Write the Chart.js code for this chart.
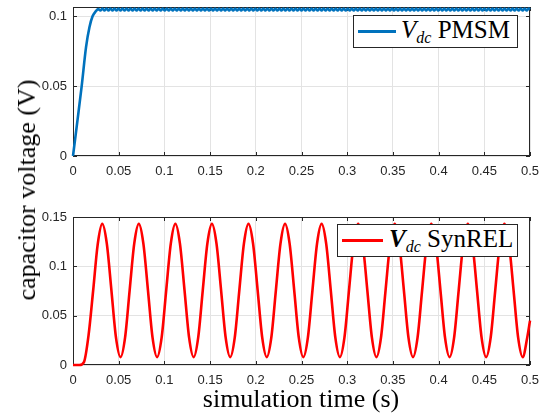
<!DOCTYPE html>
<html>
<head>
<meta charset="utf-8">
<script src="https://cdn.jsdelivr.net/npm/chart.js"></script>
<style>
  body { margin: 0; background: #fff; }
  #wrap { position: relative; width: 543px; height: 413px; overflow: hidden; }
  canvas { position: absolute; left: 0; }
  .legend { position: absolute; background: #fff; border: 1px solid #262626; box-sizing: border-box;
            display: flex; align-items: center; font-family: "Liberation Serif", serif; font-size: 25px; color: #000; }
  .swatch { display: inline-block; height: 3px; }
  .legend sub { font-size: 16px; vertical-align: -5px; }
  .title { position: absolute; font-family: "Liberation Serif", serif; font-size: 26px; color: #000; white-space: nowrap; }
</style>
</head>
<body>
<div id="wrap">
  <canvas id="topChart" width="543" height="190" style="top:0"></canvas>
  <canvas id="botChart" width="543" height="190" style="top:200px"></canvas>
  <div class="legend" style="left:353px;top:15px;width:165px;height:33px;">
    <span class="swatch" style="background:#0072BD;width:38px;margin-left:4px;"></span>
    <span style="margin-left:5px"><i>V</i><sub><i>dc</i></sub>&nbsp;PMSM</span>
  </div>
  <div class="legend" style="left:337px;top:224px;width:181px;height:33px;">
    <span class="swatch" style="background:#FF0000;width:41px;margin-left:4px;"></span>
    <span style="margin-left:6px"><b><i>V</i></b><sub><i>dc</i></sub>&nbsp;SynREL</span>
  </div>
  <div class="title" style="left:27px;top:190px;transform:translate(-50%,-50%) rotate(-90deg);">capacitor voltage (V)</div>
  <div class="title" style="left:301px;top:399px;transform:translate(-50%,-50%);">simulation time (s)</div>
</div>
<script>
// tick labels
var xTicks = [0, 0.05, 0.1, 0.15, 0.2, 0.25, 0.3, 0.35, 0.4, 0.45, 0.5];
var yTopTicks = [0, 0.05, 0.1];
var yBotTicks = [0, 0.05, 0.1, 0.15];

// PMSM capacitor voltage (s, V)
var pmsmTime = [0, 0.0050, 0.0095, 0.0143, 0.0180, 0.0215, 0.0250, 0.0277,
  0.0300,0.0322,0.0344,0.0366,0.0388,0.0410,0.0432,0.0454,0.0476,0.0498,
  0.0520,0.0542,0.0564,0.0586,0.0608,0.0630,0.0652,0.0674,0.0696,0.0718,
  0.0740,0.0762,0.0784,0.0806,0.0828,0.0850,0.0872,0.0894,0.0916,0.0938,
  0.0960,0.0982,0.1004,0.1026,0.1048,0.1070,0.1092,0.1114,0.1136,0.1158,
  0.1180,0.1202,0.1224,0.1246,0.1268,0.1290,0.1312,0.1334,0.1356,0.1378,
  0.1400,0.1422,0.1444,0.1466,0.1488,0.1510,0.1532,0.1554,0.1576,0.1598,
  0.1620,0.1642,0.1664,0.1686,0.1708,0.1730,0.1752,0.1774,0.1796,0.1818,
  0.1840,0.1862,0.1884,0.1906,0.1928,0.1950,0.1972,0.1994,0.2016,0.2038,
  0.2060,0.2082,0.2104,0.2126,0.2148,0.2170,0.2192,0.2214,0.2236,0.2258,
  0.2280,0.2302,0.2324,0.2346,0.2368,0.2390,0.2412,0.2434,0.2456,0.2478,
  0.2500,0.2522,0.2544,0.2566,0.2588,0.2610,0.2632,0.2654,0.2676,0.2698,
  0.2720,0.2742,0.2764,0.2786,0.2808,0.2830,0.2852,0.2874,0.2896,0.2918,
  0.2940,0.2962,0.2984,0.3006,0.3028,0.3050,0.3072,0.3094,0.3116,0.3138,
  0.3160,0.3182,0.3204,0.3226,0.3248,0.3270,0.3292,0.3314,0.3336,0.3358,
  0.3380,0.3402,0.3424,0.3446,0.3468,0.3490,0.3512,0.3534,0.3556,0.3578,
  0.3600,0.3622,0.3644,0.3666,0.3688,0.3710,0.3732,0.3754,0.3776,0.3798,
  0.3820,0.3842,0.3864,0.3886,0.3908,0.3930,0.3952,0.3974,0.3996,0.4018,
  0.4040,0.4062,0.4084,0.4106,0.4128,0.4150,0.4172,0.4194,0.4216,0.4238,
  0.4260,0.4282,0.4304,0.4326,0.4348,0.4370,0.4392,0.4414,0.4436,0.4458,
  0.4480,0.4502,0.4524,0.4546,0.4568,0.4590,0.4612,0.4634,0.4656,0.4678,
  0.4700,0.4722,0.4744,0.4766,0.4788,0.4810,0.4832,0.4854,0.4876,0.4898,
  0.4920,0.4942,0.4964,0.4986,0.5000];
var pmsmVolt = [0, 0.026, 0.050, 0.078, 0.092, 0.100, 0.1035, 0.1050,
  0.1040,0.1054,0.1040,0.1054,0.1040,0.1054,0.1040,0.1054,0.1040,0.1054,
  0.1040,0.1054,0.1040,0.1054,0.1040,0.1054,0.1040,0.1054,0.1040,0.1054,
  0.1040,0.1054,0.1040,0.1054,0.1040,0.1054,0.1040,0.1054,0.1040,0.1054,
  0.1040,0.1054,0.1040,0.1054,0.1040,0.1054,0.1040,0.1054,0.1040,0.1054,
  0.1040,0.1054,0.1040,0.1054,0.1040,0.1054,0.1040,0.1054,0.1040,0.1054,
  0.1040,0.1054,0.1040,0.1054,0.1040,0.1054,0.1040,0.1054,0.1040,0.1054,
  0.1040,0.1054,0.1040,0.1054,0.1040,0.1054,0.1040,0.1054,0.1040,0.1054,
  0.1040,0.1054,0.1040,0.1054,0.1040,0.1054,0.1040,0.1054,0.1040,0.1054,
  0.1040,0.1054,0.1040,0.1054,0.1040,0.1054,0.1040,0.1054,0.1040,0.1054,
  0.1040,0.1054,0.1040,0.1054,0.1040,0.1054,0.1040,0.1054,0.1040,0.1054,
  0.1040,0.1054,0.1040,0.1054,0.1040,0.1054,0.1040,0.1054,0.1040,0.1054,
  0.1040,0.1054,0.1040,0.1054,0.1040,0.1054,0.1040,0.1054,0.1040,0.1054,
  0.1040,0.1054,0.1040,0.1054,0.1040,0.1054,0.1040,0.1054,0.1040,0.1054,
  0.1040,0.1054,0.1040,0.1054,0.1040,0.1054,0.1040,0.1054,0.1040,0.1054,
  0.1040,0.1054,0.1040,0.1054,0.1040,0.1054,0.1040,0.1054,0.1040,0.1054,
  0.1040,0.1054,0.1040,0.1054,0.1040,0.1054,0.1040,0.1054,0.1040,0.1054,
  0.1040,0.1054,0.1040,0.1054,0.1040,0.1054,0.1040,0.1054,0.1040,0.1054,
  0.1040,0.1054,0.1040,0.1054,0.1040,0.1054,0.1040,0.1054,0.1040,0.1054,
  0.1040,0.1054,0.1040,0.1054,0.1040,0.1054,0.1040,0.1054,0.1040,0.1054,
  0.1040,0.1054,0.1040,0.1054,0.1040,0.1054,0.1040,0.1054,0.1040,0.1054,
  0.1040,0.1054,0.1040,0.1054,0.1040,0.1054,0.1040,0.1054,0.1040,0.1054,
  0.1040,0.1054,0.1040,0.1054,0.1047];

// SynREL capacitor voltage (s, V)
var synTime = [0, 0.007, 0.012, 0.017, 0.022, 0.027,
  0.032,0.037,0.042,0.047,0.052,0.057,0.062,0.067,
  0.072,0.077,0.082,0.087,0.092,0.097,0.102,0.107,
  0.112,0.117,0.122,0.127,0.132,0.137,0.142,0.147,
  0.152,0.157,0.162,0.167,0.172,0.177,0.182,0.187,
  0.192,0.197,0.202,0.207,0.212,0.217,0.222,0.227,
  0.232,0.237,0.242,0.247,0.252,0.257,0.262,0.267,
  0.272,0.277,0.282,0.287,0.292,0.297,0.302,0.307,
  0.312,0.317,0.322,0.327,0.332,0.337,0.342,0.347,
  0.352,0.357,0.362,0.367,0.372,0.377,0.382,0.387,
  0.392,0.397,0.402,0.407,0.412,0.417,0.422,0.427,
  0.432,0.437,0.442,0.447,0.452,0.457,0.462,0.467,
  0.472,0.477,0.482,0.487,0.492,0.497,0.500];
var synVolt = [0, 0, 0.003, 0.030, 0.075, 0.122,
  0.143,0.123,0.076,0.028,0.008,0.028,0.076,0.123,
  0.143,0.123,0.076,0.028,0.008,0.028,0.076,0.123,
  0.143,0.123,0.076,0.028,0.008,0.028,0.076,0.123,
  0.143,0.123,0.076,0.028,0.008,0.028,0.076,0.123,
  0.143,0.123,0.076,0.028,0.008,0.028,0.076,0.123,
  0.143,0.123,0.076,0.028,0.008,0.028,0.076,0.123,
  0.143,0.123,0.076,0.028,0.008,0.028,0.076,0.123,
  0.143,0.123,0.076,0.028,0.008,0.028,0.076,0.123,
  0.143,0.123,0.076,0.028,0.008,0.028,0.076,0.123,
  0.143,0.123,0.076,0.028,0.008,0.028,0.076,0.123,
  0.143,0.123,0.076,0.028,0.008,0.028,0.076,0.123,
  0.143,0.123,0.076,0.028,0.008,0.028,0.045];

var axisColor = '#262626';
var gridColor = '#e3e3e3';
var tickFont = { family: 'Liberation Sans', size: 13 };

// box round the plot area plus small inward tick marks, like matlab
// drawn before the line so the curve sits on top of the frame
var boxPlugin = {
  id: 'box',
  beforeDatasetsDraw: function(chart) {
    var c = chart.ctx, a = chart.chartArea;
    c.save();
    c.strokeStyle = axisColor;
    c.lineWidth = 1;
    c.strokeRect(a.left + 0.5, a.top + 0.5, a.right - a.left - 1, a.bottom - a.top - 1);
    c.beginPath();
    chart.scales.x.ticks.forEach(function(t) {
      var px = Math.round(chart.scales.x.getPixelForValue(t.value)) + 0.5;
      c.moveTo(px, a.bottom); c.lineTo(px, a.bottom - 4);
      c.moveTo(px, a.top); c.lineTo(px, a.top + 4);
    });
    chart.scales.y.ticks.forEach(function(t) {
      var py = Math.round(chart.scales.y.getPixelForValue(t.value)) + 0.5;
      c.moveTo(a.left, py); c.lineTo(a.left + 4, py);
      c.moveTo(a.right, py); c.lineTo(a.right - 4, py);
    });
    c.stroke();
    c.restore();
  }
};

function makeChart(id, times, volts, color, yMax, yTicks, padTop, xHeight) {
  var pts = times.map(function(t, i) { return { x: t, y: volts[i] }; });
  return new Chart(document.getElementById(id), {
    type: 'line',
    data: { datasets: [{ data: pts, borderColor: color, borderWidth: 2.6, pointRadius: 0,
                         fill: false, clip: 3, cubicInterpolationMode: 'monotone' }] },
    options: {
      responsive: false,
      animation: false,
      layout: { padding: { top: padTop, right: 13, left: 0, bottom: 0 } },
      plugins: { legend: { display: false }, tooltip: { enabled: false } },
      scales: {
        x: {
          type: 'linear', min: 0, max: 0.5,
          afterBuildTicks: function(s) { s.ticks = xTicks.map(function(v) { return { value: v }; }); },
          afterFit: function(s) { s.height = xHeight; s.paddingLeft = 0; s.paddingRight = 0; },
          ticks: { font: tickFont, color: axisColor, padding: 8, maxRotation: 0, autoSkip: false,
                   callback: function(v) { return String(v); } },
          grid: { color: gridColor, drawTicks: false },
          border: { display: false }
        },
        y: {
          min: 0, max: yMax,
          afterBuildTicks: function(s) { s.ticks = yTicks.map(function(v) { return { value: v }; }); },
          afterFit: function(s) { s.width = 73; s.paddingTop = 0; s.paddingBottom = 0; },
          ticks: { font: tickFont, color: axisColor, padding: 6,
                   callback: function(v) { return String(v); } },
          grid: { color: gridColor, drawTicks: false },
          border: { display: false }
        }
      }
    },
    plugins: [boxPlugin]
  });
}

makeChart('topChart', pmsmTime, pmsmVolt, '#0072BD', 0.1065, yTopTicks, 7, 34);
makeChart('botChart', synTime, synVolt, '#FF0000', 0.15, yBotTicks, 17, 25);
</script>
</body>
</html>
